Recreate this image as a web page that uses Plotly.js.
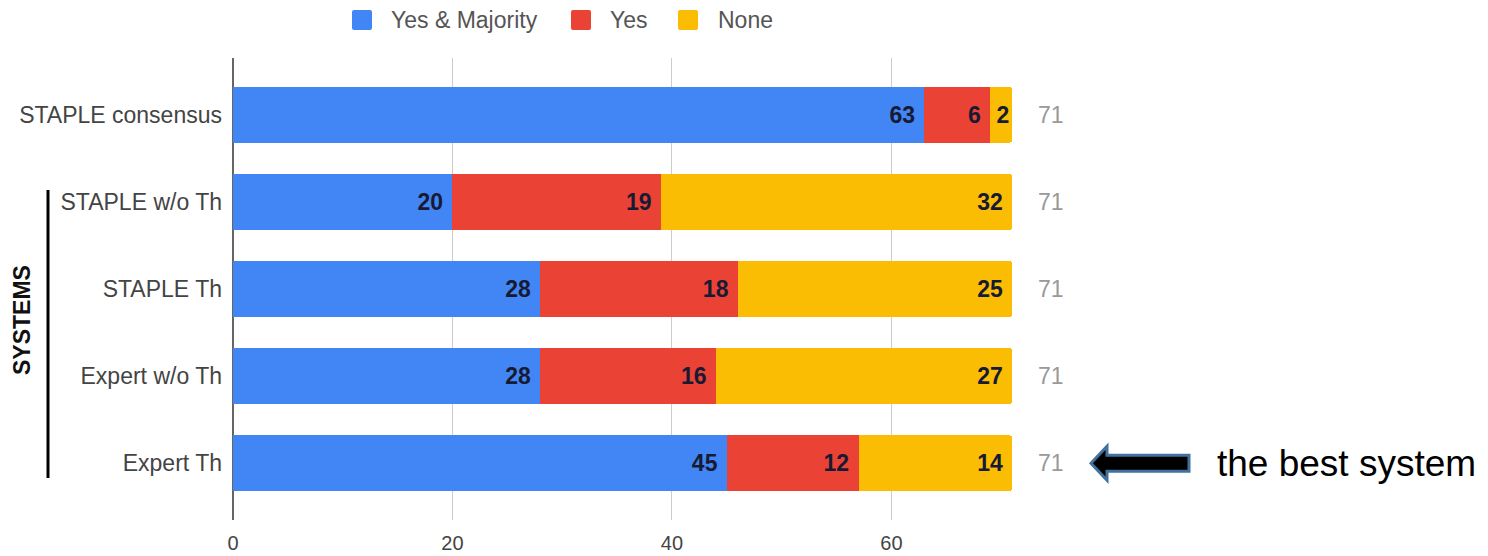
<!DOCTYPE html>
<html><head><meta charset="utf-8">
<script src="https://cdn.plot.ly/plotly-3.0.1.min.js"></script>
<style>html,body{margin:0;padding:0;background:#fff}#chart{width:1488px;height:556px}</style>
</head><body><div id="chart"></div>
<script>
const categories = ["STAPLE consensus", "STAPLE w/o Th", "STAPLE Th", "Expert w/o Th", "Expert Th"];
const yesMajority = [63, 20, 28, 28, 45];
const yesOnly = [6, 19, 18, 16, 12];
const none = [2, 32, 25, 27, 14];
const seriesNames = ["Yes & Majority", "Yes", "None"];
const xTicks = [0, 20, 40, 60];
const groupTitle = "SYSTEMS";
const noteText = "the best system";
const noteCategory = "Expert Th";

const colors = ["#4285F4", "#EA4335", "#FBBC04"];
const NB = "\u00a0";
const series = [yesMajority, yesOnly, none];
const traces = series.map((vals, i) => ({
  type: "bar", orientation: "h", name: seriesNames[i], showlegend: false,
  y: categories, x: vals, text: vals.map(v => v >= 4 ? String(v) + NB : String(v)),
  textposition: "inside", insidetextanchor: "end", constraintext: "none",
  textfont: {family: "Arial, Liberation Sans", size: 23, color: "#171a33", weight: "bold"},
  marker: {color: colors[i]}, hoverinfo: "none"
}));

// plot area in pixels: left 233, width 856, top 58, height 462
const px2x = px => (px - 233) / 856;
const py2y = py => (520 - py) / 462;

const totals = categories.map((c, k) => yesMajority[k] + yesOnly[k] + none[k]);
const annotations = categories.map((c, k) => ({
  x: totals[k], y: c, xref: "x", yref: "y", text: String(totals[k]),
  showarrow: false, xanchor: "left", xshift: 24,
  font: {family: "Arial, Liberation Sans", size: 23, color: "#999999"}
}));
annotations.push({
  xref: "paper", yref: "paper", x: px2x(22), y: py2y(320), text: "<b>" + groupTitle + "</b>",
  textangle: -90, showarrow: false, xanchor: "center", yanchor: "middle",
  font: {family: "Arial, Liberation Sans", size: 23, color: "#111"}
});
annotations.push({
  xref: "paper", yref: "y", x: px2x(1215), y: noteCategory, text: noteText,
  showarrow: false, xanchor: "left",
  font: {family: "Arial, Liberation Sans", size: 37, color: "#000"}
});

const shapes = [
  {type: "line", xref: "paper", yref: "paper", x0: px2x(48), x1: px2x(48), y0: py2y(190), y1: py2y(478),
   line: {color: "#000", width: 3}},
  {type: "path", xref: "paper", yref: "y", xsizemode: "pixel", ysizemode: "pixel",
   xanchor: px2x(1091), yanchor: noteCategory,
   path: "M0,0 L16,17 L16,8 L98,8 L98,-8 L16,-8 L16,-17 Z",
   fillcolor: "#000", line: {color: "#41719c", width: 3}}
];

// custom legend with larger rounded squares
const legendSquares = [352, 571, 678];
const legendTexts = [389, 608, 716];
seriesNames.forEach((n, i) => {
  shapes.push({type: "path", xref: "paper", yref: "paper", xsizemode: "pixel", ysizemode: "pixel",
    xanchor: px2x(legendSquares[i]), yanchor: py2y(20),
    path: "M2,-10 L18,-10 Q20,-10 20,-8 L20,8 Q20,10 18,10 L2,10 Q0,10 0,8 L0,-8 Q0,-10 2,-10 Z",
    fillcolor: colors[i], line: {width: 0}});
  annotations.push({xref: "paper", yref: "paper", x: px2x(legendTexts[i]), y: py2y(20),
    text: n, showarrow: false, xanchor: "left", yanchor: "middle",
    font: {family: "Arial, Liberation Sans", size: 23, color: "#555"}});
});

const layout = {
  width: 1488, height: 556,
  margin: {l: 233, r: 399, t: 58, b: 36},
  paper_bgcolor: "#fff", plot_bgcolor: "#fff",
  barmode: "stack", bargap: 0.36, barcornerradius: 3,
  showlegend: false,
  xaxis: {range: [0, 78], tickvals: xTicks, showgrid: true, gridcolor: "#cccccc",
          zeroline: true, zerolinecolor: "#666", zerolinewidth: 1.5,
          ticklabelstandoff: 9,
          tickfont: {family: "Arial, Liberation Sans", size: 20, color: "#444"},
          showline: false, fixedrange: true},
  yaxis: {type: "category", range: [4.65, -0.65], showgrid: false, zeroline: false,
          ticklabelstandoff: 10,
          tickfont: {family: "Arial, Liberation Sans", size: 23, color: "#444"}},
  annotations: annotations, shapes: shapes,
  font: {family: "Arial, Liberation Sans"}
};
Plotly.newPlot("chart", traces, layout, {displayModeBar: false, staticPlot: true});
</script></body></html>
